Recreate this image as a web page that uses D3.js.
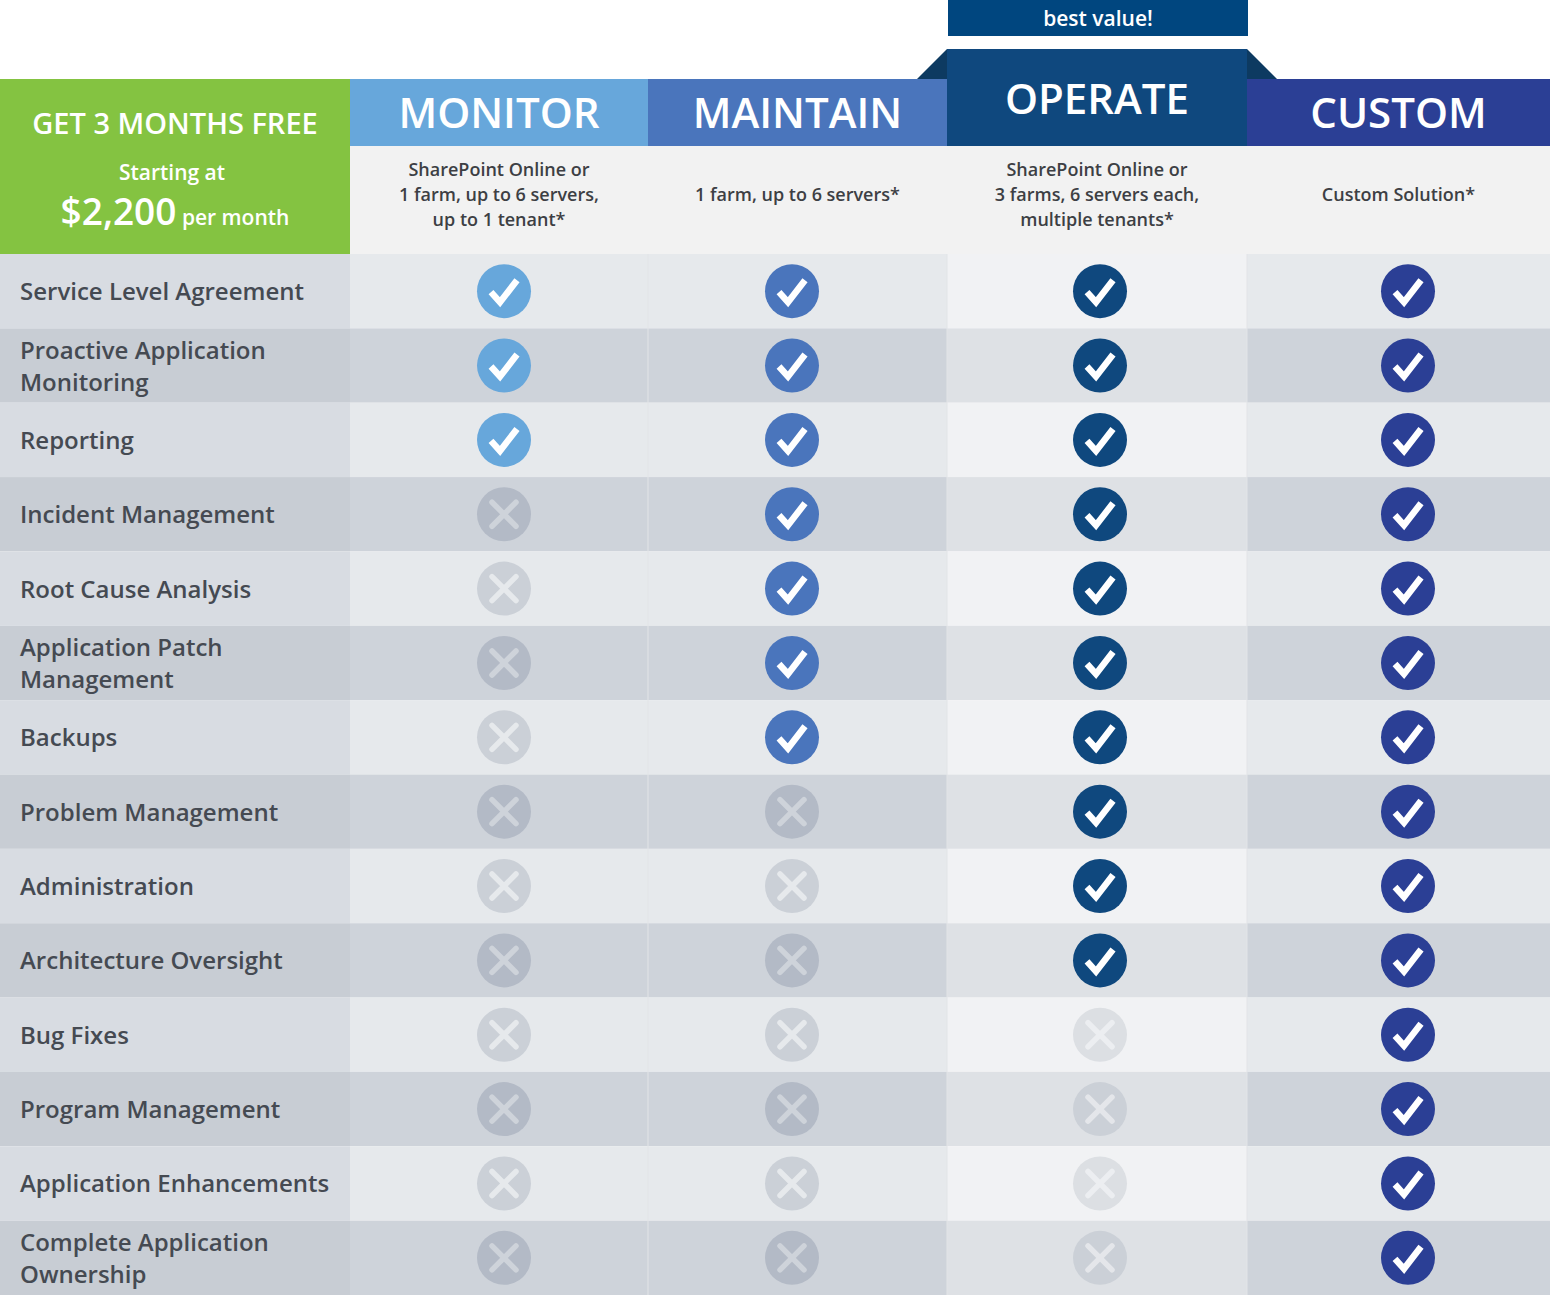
<!DOCTYPE html><html><head><meta charset="utf-8">
<script src="https://cdn.jsdelivr.net/npm/d3@7"></script>
<style>body{margin:0;background:#fff}svg{display:block;font-family:"Open Sans",sans-serif}</style></head><body>
<script>
const plans=["MONITOR","MAINTAIN","OPERATE","CUSTOM"];
const planColors=["#67a7db","#4a75bc","#0f487e","#2b3f95"];
const planDesc=[["SharePoint Online or","1 farm, up to 6 servers,","up to 1 tenant*"],["1 farm, up to 6 servers*"],["SharePoint Online or","3 farms, 6 servers each,","multiple tenants*"],["Custom Solution*"]];
const features=[["Service Level Agreement"],["Proactive Application","Monitoring"],["Reporting"],["Incident Management"],["Root Cause Analysis"],["Application Patch","Management"],["Backups"],["Problem Management"],["Administration"],["Architecture Oversight"],["Bug Fixes"],["Program Management"],["Application Enhancements"],["Complete Application","Ownership"]];
const featureCount=[3,7,10,14];

const W=1550,H=1295;
const svg=d3.select("body").append("svg").attr("width",W).attr("height",H);
const colEdges=[0,350,648,947,1247,1550];
const y=d3.scaleBand().domain(d3.range(features.length)).range([254,1295]);
const xc=i=>(colEdges[i+1]+colEdges[i+2])/2;

// rows
features.forEach((f,r)=>{
  const dark=r%2===1;
  const fills=[dark?"#c8cdd4":"#d8dce2",dark?"#ced3da":"#e6e9ec",dark?"#ced3da":"#e6e9ec",dark?"#dee1e5":"#f1f2f4",dark?"#ced3da":"#e6e9ec"];
  for(let c=0;c<5;c++) svg.append("rect").attr("x",colEdges[c]).attr("y",y(r)).attr("width",colEdges[c+1]-colEdges[c]).attr("height",y.bandwidth()).attr("fill",fills[c]);
  const t=svg.append("text").attr("x",20).attr("fill","#454a52").attr("font-size",24).attr("font-weight",600);
  const cy=y(r)+y.bandwidth()/2;
  f.forEach((l,i)=>t.append("tspan").attr("x",20).attr("y",cy+9+(i-(f.length-1)/2)*32).text(l));
  plans.forEach((p,c)=>{
    const g=svg.append("g").attr("transform",`translate(${c===2?1100:c===3?1408:c===0?504:792},${cy})`);
    if(r<featureCount[c]){
      g.append("circle").attr("r",27).attr("fill",planColors[c]);
      g.append("path").attr("d","M-13,1 L-4,11 L13,-11").attr("fill","none").attr("stroke","#fff").attr("stroke-width",6.5);
    } else {
      const fill=c===2?(dark?"#cbd0d7":"#dcdfe3"):(dark?"#b3bac6":"#cbd0d7");
      const stroke=c===2?(dark?"#e4e6ea":"#eceef1"):(dark?"#ced3da":"#e6e9ec");
      g.append("circle").attr("r",27).attr("fill",fill);
      g.append("path").attr("d","M-12,-12L12,12M12,-12L-12,12").attr("stroke",stroke).attr("stroke-width",5.5).attr("stroke-linecap","round");
    }
  });
});
// column separators
[648,947,1247].forEach(x=>svg.append("line").attr("x1",x).attr("x2",x).attr("y1",146).attr("y2",H).attr("stroke","#e2e4e7").attr("stroke-width",1));

// description row
svg.append("rect").attr("x",350).attr("y",146).attr("width",1200).attr("height",108).attr("fill","#f2f2f2");
planDesc.forEach((d,c)=>{
  const t=svg.append("text").attr("text-anchor","middle").attr("fill","#3d3f44").attr("font-size",18).attr("font-weight",600);
  const cx=(colEdges[c+1]+colEdges[c+2])/2;
  d.forEach((l,i)=>t.append("tspan").attr("x",cx).attr("y",201+(i-(d.length-1)/2)*25).text(l));
});

// headers
svg.append("rect").attr("x",0).attr("y",79).attr("width",350).attr("height",175).attr("fill","#84c341");
svg.append("text").attr("x",175).attr("y",134).attr("text-anchor","middle").attr("fill","#fff").attr("font-size",29).attr("font-weight",600).text("GET 3 MONTHS FREE");
svg.append("text").attr("x",172).attr("y",180).attr("text-anchor","middle").attr("fill","#fff").attr("font-size",21).attr("font-weight",600).text("Starting at");
const pt=svg.append("text").attr("x",175).attr("y",225).attr("text-anchor","middle").attr("fill","#fff").attr("font-weight",600);
pt.append("tspan").attr("font-size",37).text("$2,200");
pt.append("tspan").attr("font-size",21).text(" per month");

svg.append("path").attr("d","M917,79L947,49L947,79Z").attr("fill","#0d3a61");
svg.append("path").attr("d","M1247,49L1277,79L1247,79Z").attr("fill","#0d3a61");
plans.forEach((p,c)=>{
  const top=c===2?49:79;
  svg.append("rect").attr("x",colEdges[c+1]).attr("y",top).attr("width",colEdges[c+2]-colEdges[c+1]).attr("height",146-top).attr("fill",planColors[c]);
  svg.append("text").attr("x",xc(c)).attr("y",c===2?114:128).attr("text-anchor","middle").attr("fill","#fff").attr("font-size",42).attr("font-weight",600).text(p);
});
svg.append("rect").attr("x",948).attr("y",0).attr("width",300).attr("height",36).attr("fill","#00467f");
svg.append("text").attr("x",1098).attr("y",26).attr("text-anchor","middle").attr("fill","#fff").attr("font-size",21).attr("font-weight",600).text("best value!");
</script></body></html>
